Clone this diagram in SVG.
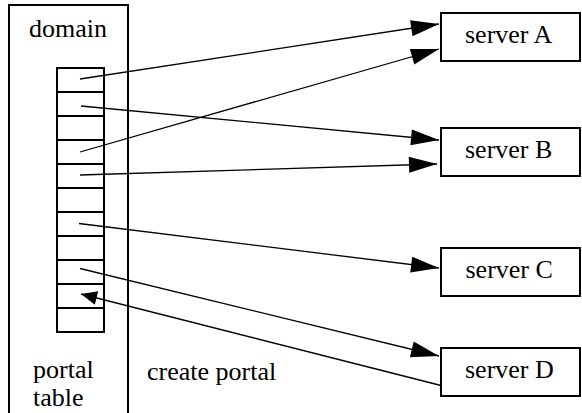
<svg xmlns="http://www.w3.org/2000/svg" width="582" height="413" viewBox="0 0 582 413">
<style>
.box{fill:#fff;stroke:#000;stroke-width:2}
.cell{fill:none;stroke:#000;stroke-width:2}
.conn line{stroke:#000;stroke-width:1.3}
</style>
<defs>
<marker id="big" markerUnits="userSpaceOnUse" markerWidth="28" markerHeight="16" refX="28" refY="8" orient="auto" overflow="visible">
<path d="M0,0 L28,8 L0,16 z" fill="#000"/>
</marker>
<marker id="small" markerUnits="userSpaceOnUse" markerWidth="16" markerHeight="14" refX="16" refY="7" orient="auto" overflow="visible">
<path d="M0,0 L16,7 L0,14 z" fill="#000"/>
</marker>
</defs>
<rect width="582" height="413" fill="#fff"/>
<g id="domain">
<rect class="box" x="9" y="5" width="119" height="420"/>
<text x="29" y="37" style="font-family:'Liberation Serif',serif;font-size:26px">domain</text>
<text x="33" y="378" style="font-family:'Liberation Serif',serif;font-size:26px">portal</text>
<text x="33" y="406" style="font-family:'Liberation Serif',serif;font-size:26px">table</text>
</g>
<g id="portal-table">
<rect class="cell" x="57" y="68" width="47" height="264"/>
<path class="cell" d="M57,92H104M57,116H104M57,140H104M57,164H104M57,188H104M57,212H104M57,236H104M57,260H104M57,284H104M57,308H104"/>
</g>
<g id="serverA">
<rect class="box" x="441" y="13" width="139" height="48"/>
<text x="465" y="42.5" style="font-family:'Liberation Serif',serif;font-size:26px">server A</text>
</g>
<g id="serverB">
<rect class="box" x="441" y="128" width="139" height="48"/>
<text x="465" y="157.5" style="font-family:'Liberation Serif',serif;font-size:26px">server B</text>
</g>
<g id="serverC">
<rect class="box" x="441" y="248" width="139" height="48"/>
<text x="465.5" y="277.5" style="font-family:'Liberation Serif',serif;font-size:26px">server C</text>
</g>
<g id="serverD">
<rect class="box" x="441" y="348" width="139" height="48"/>
<text x="465" y="377.5" style="font-family:'Liberation Serif',serif;font-size:26px">server D</text>
</g>
<g id="connectors" class="conn">
<line x1="80" y1="79" x2="439" y2="24" marker-end="url(#big)"/>
<line x1="81" y1="106" x2="439" y2="140" marker-end="url(#big)"/>
<line x1="80" y1="152" x2="439" y2="49" marker-end="url(#big)"/>
<line x1="80" y1="175" x2="437" y2="164" marker-end="url(#big)"/>
<line x1="79" y1="223.5" x2="439" y2="268" marker-end="url(#big)"/>
<line x1="80" y1="268.5" x2="439" y2="356" marker-end="url(#big)"/>
<line x1="441" y1="385.5" x2="81" y2="294" marker-end="url(#small)"/>
</g>
<text x="147" y="380" style="font-family:'Liberation Serif',serif;font-size:26px">create portal</text>
</svg>
